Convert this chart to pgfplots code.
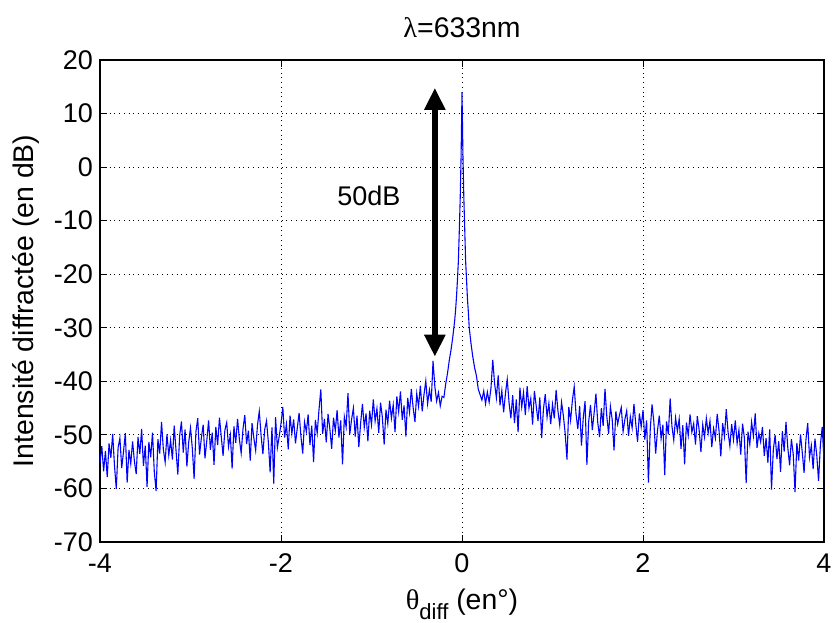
\documentclass[border=0pt]{standalone}
\usepackage{fontspec}
\setmainfont{Liberation Sans}
\newfontfamily\symfont{Liberation Serif}
\usepackage{pgfplots}
\pgfplotsset{compat=1.18}
\usetikzlibrary{arrows.meta}
\newcommand{\fs}{\fontsize{13.5bp}{15bp}\selectfont}
\newcommand{\fl}{\fontsize{14.2bp}{16bp}\selectfont}
\begin{document}
\begin{tikzpicture}
\begin{axis}[
  scale only axis, width=362bp, height=241bp,
  xmin=-4, xmax=4, ymin=-70, ymax=20,
  xtick={-4,-2,0,2,4}, xticklabels={-4,-2,0,2,4},
  ytick={-70,-60,-50,-40,-30,-20,-10,0,10,20},
  yticklabels={-70,-60,-50,-40,-30,-20,-10,0,10,20},
  grid=major, major grid style={dotted, black, line width=0.5pt},
  tick align=inside, tick pos=both, major tick length=3.5bp,
  tick style={black, line width=0.5pt},
  axis line style={black, line width=0.6pt},
  every tick label/.append style={font=\fs},
  xticklabel style={yshift=-2.5bp},
  title style={font=\fl, at={(axis description cs:0.5,1)}, anchor=base, yshift=5.4bp},
  title={{\symfont λ}=633nm},
  xlabel style={font=\fl, at={(axis description cs:0.5,0)}, anchor=base, yshift=-34bp},
  xlabel={{\symfont θ}\raisebox{-5bp}{\fontsize{11bp}{12bp}\selectfont diff} (en°)},
  ylabel style={font=\fl, at={(axis description cs:0,0.5)}, anchor=center, rotate=0, yshift=37bp},
  ylabel={Intensité diffractée (en dB)},
]
\coordinate (ll) at (rel axis cs:0,0);
\coordinate (ur) at (rel axis cs:1,1);
\addplot[blue, line width=0.55pt] coordinates {
(-4.00,-55.2)(-3.98,-52.1)(-3.96,-56.8)(-3.94,-53.0)(-3.92,-57.9)(-3.90,-51.6)(-3.88,-54.3)(-3.86,-49.8)(-3.84,-55.7)(-3.82,-60.1)
(-3.80,-52.4)(-3.78,-50.6)(-3.76,-56.2)(-3.74,-53.1)(-3.72,-49.7)(-3.70,-58.9)(-3.68,-52.8)(-3.66,-55.4)(-3.64,-51.2)(-3.62,-54.9)
(-3.60,-57.3)(-3.58,-50.4)(-3.56,-53.6)(-3.54,-48.9)(-3.52,-55.8)(-3.50,-52.0)(-3.48,-59.7)(-3.46,-51.3)(-3.44,-54.2)(-3.42,-49.6)
(-3.40,-56.9)(-3.38,-60.5)(-3.36,-50.8)(-3.34,-53.5)(-3.32,-47.6)(-3.30,-52.7)(-3.28,-55.1)(-3.26,-49.9)(-3.24,-53.8)(-3.22,-51.0)
(-3.20,-54.6)(-3.18,-48.3)(-3.16,-52.9)(-3.14,-57.4)(-3.12,-50.2)(-3.10,-47.5)(-3.08,-53.3)(-3.06,-49.0)(-3.04,-55.9)(-3.02,-51.4)
(-3.00,-48.7)(-2.98,-52.5)(-2.96,-58.2)(-2.94,-49.4)(-2.92,-46.9)(-2.90,-53.7)(-2.88,-50.6)(-2.86,-48.1)(-2.84,-54.4)(-2.82,-51.1)
(-2.80,-47.3)(-2.78,-52.8)(-2.76,-49.6)(-2.74,-55.6)(-2.72,-48.5)(-2.70,-51.9)(-2.68,-46.8)(-2.66,-50.3)(-2.64,-53.9)(-2.62,-49.1)
(-2.60,-47.7)(-2.58,-52.2)(-2.56,-50.0)(-2.54,-56.3)(-2.52,-48.4)(-2.50,-51.5)(-2.48,-47.0)(-2.46,-50.8)(-2.44,-53.4)(-2.42,-48.9)
(-2.40,-46.3)(-2.38,-51.7)(-2.36,-49.2)(-2.34,-54.8)(-2.32,-47.8)(-2.30,-50.6)(-2.28,-52.9)(-2.26,-48.2)(-2.24,-45.6)(-2.22,-50.1)
(-2.20,-53.6)(-2.18,-49.0)(-2.16,-47.4)(-2.14,-51.3)(-2.12,-57.0)(-2.10,-48.6)(-2.08,-59.1)(-2.06,-46.7)(-2.04,-52.4)(-2.02,-50.3)
(-2.00,-47.9)(-1.98,-44.8)(-1.96,-50.5)(-1.94,-48.0)(-1.92,-52.7)(-1.90,-46.4)(-1.88,-49.8)(-1.86,-47.1)(-1.84,-51.6)(-1.82,-48.7)
(-1.80,-45.9)(-1.78,-50.2)(-1.76,-53.5)(-1.74,-47.6)(-1.72,-49.4)(-1.70,-46.2)(-1.68,-51.9)(-1.66,-48.3)(-1.64,-55.1)(-1.62,-47.2)
(-1.60,-49.7)(-1.58,-45.3)(-1.56,-41.5)(-1.54,-49.8)(-1.52,-47.0)(-1.50,-51.4)(-1.48,-46.1)(-1.46,-48.9)(-1.44,-52.6)(-1.42,-46.8)
(-1.40,-49.2)(-1.38,-45.4)(-1.36,-50.5)(-1.34,-47.3)(-1.32,-55.5)(-1.30,-46.6)(-1.28,-48.5)(-1.26,-42.2)(-1.24,-49.9)(-1.22,-47.1)
(-1.20,-45.0)(-1.18,-50.3)(-1.16,-46.4)(-1.14,-52.3)(-1.12,-47.8)(-1.10,-44.2)(-1.08,-48.6)(-1.06,-46.0)(-1.04,-51.2)(-1.02,-45.5)
(-1.00,-48.1)(-0.98,-43.4)(-0.96,-47.4)(-0.94,-45.1)(-0.92,-49.6)(-0.90,-44.0)(-0.88,-46.7)(-0.86,-51.8)(-0.84,-45.3)(-0.82,-47.9)
(-0.80,-43.6)(-0.78,-46.9)(-0.76,-44.4)(-0.74,-49.5)(-0.72,-42.8)(-0.70,-45.7)(-0.68,-41.9)(-0.66,-47.2)(-0.64,-44.5)(-0.62,-50.3)
(-0.60,-43.1)(-0.58,-45.8)(-0.56,-41.4)(-0.54,-44.9)(-0.52,-47.6)(-0.50,-42.3)(-0.48,-44.7)(-0.46,-40.8)(-0.44,-45.6)(-0.42,-42.5)
(-0.40,-39.9)(-0.38,-44.2)(-0.36,-41.6)(-0.34,-43.8)(-0.32,-36.2)(-0.30,-41.0)(-0.28,-43.7)(-0.26,-42.1)(-0.24,-44.6)(-0.22,-42.8)
(-0.20,-43.0)(-0.18,-40.5)(-0.16,-38.5)(-0.14,-36.0)(-0.12,-34.0)(-0.10,-31.5)(-0.09,-30.0)(-0.08,-28.5)(-0.07,-26.5)(-0.06,-24.0)
(-0.05,-21.0)(-0.04,-17.5)(-0.03,-12.0)(-0.02,-6.0)(-0.01,2.0)(-0.005,8.0)(0.0,14.0)(0.005,8.5)(0.01,2.5)(0.02,-5.5)
(0.03,-11.5)(0.04,-17.5)(0.05,-21.0)(0.06,-24.5)(0.07,-27.0)(0.08,-30.0)(0.09,-31.5)(0.10,-33.0)(0.12,-35.5)(0.14,-37.5)
(0.16,-39.0)(0.18,-41.5)(0.20,-42.5)
(0.22,-43.5)(0.24,-41.8)(0.26,-44.2)(0.28,-42.0)(0.30,-43.9)(0.32,-41.3)(0.34,-36.0)(0.36,-40.4)(0.38,-43.1)(0.40,-38.9)
(0.42,-44.5)(0.44,-41.7)(0.46,-45.8)(0.48,-42.3)(0.50,-39.6)(0.52,-44.0)(0.54,-46.9)(0.56,-42.6)(0.58,-47.8)(0.60,-43.4)
(0.62,-49.5)(0.64,-41.2)(0.66,-44.8)(0.68,-42.1)(0.70,-46.3)(0.72,-40.9)(0.74,-45.0)(0.76,-43.2)(0.78,-48.1)(0.80,-41.8)
(0.82,-44.6)(0.84,-47.4)(0.86,-43.0)(0.88,-50.6)(0.90,-45.2)(0.92,-42.4)(0.94,-46.7)(0.96,-44.1)(0.98,-48.0)(1.00,-44.3)
(1.02,-46.9)(1.04,-41.6)(1.06,-45.5)(1.08,-48.2)(1.10,-43.9)(1.12,-46.4)(1.14,-49.7)(1.16,-54.6)(1.18,-44.8)(1.20,-47.3)
(1.22,-43.5)(1.24,-41.0)(1.26,-46.1)(1.28,-48.9)(1.30,-44.6)(1.32,-52.0)(1.34,-46.8)(1.36,-43.7)(1.38,-55.6)(1.40,-47.5)
(1.42,-44.4)(1.44,-49.1)(1.46,-45.9)(1.48,-42.3)(1.50,-47.7)(1.52,-50.4)(1.54,-45.0)(1.56,-48.3)(1.58,-41.4)(1.60,-46.5)
(1.62,-49.8)(1.64,-44.7)(1.66,-47.2)(1.68,-52.9)(1.70,-45.6)(1.72,-48.0)(1.74,-46.3)(1.76,-44.9)(1.78,-49.4)(1.80,-47.1)
(1.82,-45.5)(1.84,-50.2)(1.86,-46.6)(1.88,-48.7)(1.90,-44.2)(1.92,-47.9)(1.94,-51.3)(1.96,-46.0)(1.98,-48.5)(2.00,-45.4)
(2.02,-50.9)(2.04,-47.3)(2.06,-58.9)(2.08,-49.0)(2.10,-44.3)(2.12,-47.6)(2.14,-53.5)(2.16,-49.2)(2.18,-46.4)(2.20,-50.7)
(2.22,-48.1)(2.24,-57.5)(2.26,-47.5)(2.28,-49.9)(2.30,-43.2)(2.32,-48.4)(2.34,-51.0)(2.36,-46.8)(2.38,-49.3)(2.40,-47.0)
(2.42,-52.6)(2.44,-48.2)(2.46,-55.5)(2.48,-47.7)(2.50,-50.1)(2.52,-46.2)(2.54,-49.5)(2.56,-47.9)(2.58,-51.8)(2.60,-46.5)
(2.62,-49.0)(2.64,-53.2)(2.66,-48.1)(2.68,-50.4)(2.70,-46.9)(2.72,-49.7)(2.74,-47.4)(2.76,-52.3)(2.78,-48.8)(2.80,-50.6)
(2.82,-46.1)(2.84,-49.2)(2.86,-54.0)(2.88,-47.8)(2.90,-50.3)(2.92,-45.2)(2.94,-49.5)(2.96,-52.1)(2.98,-48.0)(3.00,-50.9)
(3.02,-47.3)(3.04,-51.6)(3.06,-49.1)(3.08,-53.7)(3.10,-47.9)(3.12,-50.5)(3.14,-59.0)(3.16,-49.4)(3.18,-51.8)(3.20,-47.6)
(3.22,-50.2)(3.24,-46.0)(3.26,-52.4)(3.28,-49.7)(3.30,-51.3)(3.32,-48.5)(3.34,-53.9)(3.36,-50.6)(3.38,-55.2)(3.40,-49.0)
(3.42,-60.2)(3.44,-52.8)(3.46,-50.0)(3.48,-54.5)(3.50,-51.2)(3.52,-56.9)(3.54,-49.3)(3.56,-53.1)(3.58,-47.6)(3.60,-52.4)
(3.62,-55.7)(3.64,-50.8)(3.66,-53.6)(3.68,-60.7)(3.70,-51.5)(3.72,-54.8)(3.74,-49.9)(3.76,-53.3)(3.78,-57.1)(3.80,-51.0)
(3.82,-47.8)(3.84,-54.2)(3.86,-52.0)(3.88,-56.4)(3.90,-50.7)(3.92,-53.8)(3.94,-58.6)(3.96,-51.9)(3.98,-48.5)(4.00,-54.7)
};
\draw[black, line width=2.8bp, {Triangle[width=10bp,length=11bp]}-{Triangle[width=10bp,length=11bp]}]
  (axis cs:-0.30,14.8) -- (axis cs:-0.30,-35.4);
\node[font=\fs] at (axis cs:-1.03,-5.4) {50dB};
\end{axis}
\pgfresetboundingbox
\path[use as bounding box] ([shift={(-50bp,-40.5bp)}]ll) rectangle ([shift={(5bp,30bp)}]ur);
\end{tikzpicture}
\end{document}
